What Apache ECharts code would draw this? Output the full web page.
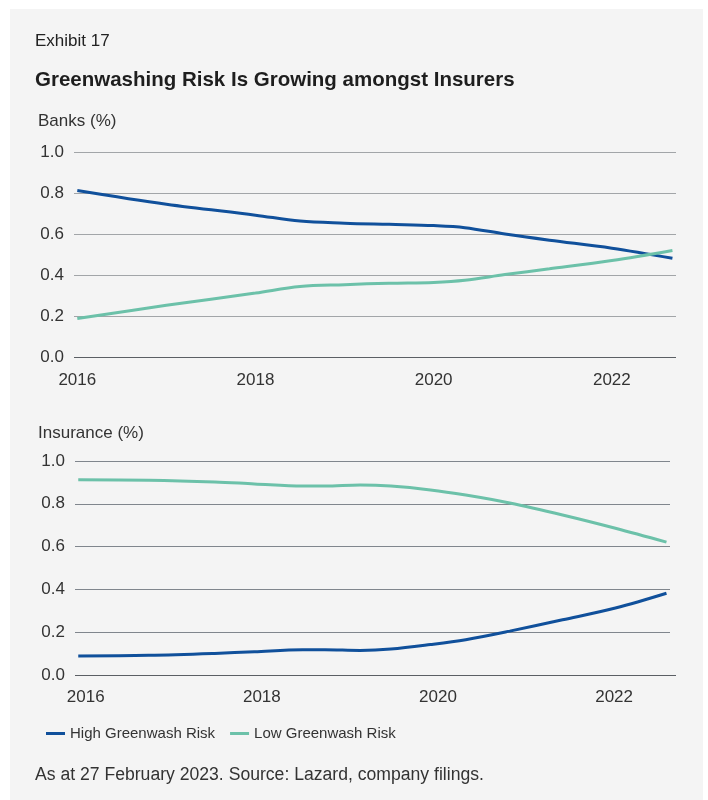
<!DOCTYPE html>
<html>
<head>
<meta charset="utf-8">
<script src="https://cdn.jsdelivr.net/npm/echarts@6/dist/echarts.min.js"></script>
<style>
html,body{margin:0;padding:0;background:#ffffff;}
#chart{width:708px;height:800px;}
</style>
</head>
<body>
<div id="chart"></div>
<script>
// ---- data ----
const exhibitLabel = 'Exhibit 17';
const chartTitle = 'Greenwashing Risk Is Growing amongst Insurers';
const banksLabel = 'Banks (%)';
const insuranceLabel = 'Insurance (%)';
const footnote = 'As at 27 February 2023. Source: Lazard, company filings.';
const seriesNames = ['High Greenwash Risk', 'Low Greenwash Risk'];
const xTickLabels = [2016, 2018, 2020, 2022];

const banksYears = [2016, 2017, 2018, 2018.5, 2019, 2019.5, 2020, 2020.35, 2020.8, 2021.3, 2022, 2022.68];
const banksHigh  = [0.812, 0.745, 0.692, 0.663, 0.653, 0.647, 0.641, 0.631, 0.600, 0.570, 0.531, 0.482];
const banksLow   = [0.188, 0.252, 0.312, 0.344, 0.353, 0.360, 0.364, 0.374, 0.402, 0.430, 0.471, 0.520];

const insYears = [2016, 2016.8, 2017.55, 2018, 2018.55, 2018.8, 2019.2, 2019.55, 2020, 2020.4, 2020.9, 2021.5, 2022.1, 2022.68];
const insHigh  = [0.089, 0.092, 0.101, 0.109, 0.118, 0.118, 0.115, 0.121, 0.142, 0.165, 0.205, 0.258, 0.313, 0.382];
const insLow   = [0.912, 0.910, 0.902, 0.893, 0.883, 0.883, 0.888, 0.883, 0.865, 0.841, 0.804, 0.748, 0.686, 0.621];

// ---- styling ----
const FONT = "'Liberation Sans', Arial, Helvetica, sans-serif";
const BLUE = '#10509b';
const TEAL = '#6cc1a9';
const xMin = 2015.963, xMax = 2022.72;

const pair = (xs, ys) => xs.map((x, i) => [x, ys[i]]);

function xAxisCfg(gridIndex, padLeft, margin) {
  return {
    type: 'value', gridIndex, min: xMin, max: xMax,
    axisLine: { show: false },
    axisTick: { show: false },
    splitLine: { show: false },
    axisLabel: {
      customValues: xTickLabels,
      fontFamily: FONT, fontSize: 17, color: '#333',
      margin: margin, padding: [0, 0, 0, padLeft],
      formatter: v => String(Math.round(v))
    }
  };
}
function yAxisCfg(gridIndex, gridColor) {
  return {
    type: 'value', gridIndex, min: 0, max: 1, interval: 0.2,
    axisLine: { show: false },
    axisTick: { show: false },
    splitLine: { show: true, lineStyle: { color: gridColor, width: 1.2 } },
    axisLabel: {
      fontFamily: FONT, fontSize: 17, color: '#333', margin: 10,
      formatter: v => v.toFixed(1)
    }
  };
}
function lineSeries(name, data, color, xi, yi) {
  return {
    name, type: 'line', xAxisIndex: xi, yAxisIndex: yi,
    data, smooth: 0.35, showSymbol: false, symbol: 'none',
    lineStyle: { color, width: 3 }, itemStyle: { color },
    animation: false
  };
}
function txt(text, x, y, size, weight, color) {
  return {
    type: 'text', x, y, z: 10,
    style: { text, fontFamily: FONT, fontSize: size, fontWeight: weight || 'normal',
             fill: color || '#333', verticalAlign: 'middle', align: 'left' }
  };
}

const chart = echarts.init(document.getElementById('chart'), null, { renderer: 'canvas' });
chart.setOption({
  backgroundColor: '#ffffff',
  animation: false,
  graphic: [
    { type: 'rect', shape: { x: 10, y: 9, width: 693, height: 791 }, style: { fill: '#f4f4f4' }, z: -10 },
    txt(exhibitLabel, 35, 41.5, 17, 'normal', '#222'),
    txt(chartTitle, 35, 80.5, 20.5, 'bold', '#1e1e1e'),
    txt(banksLabel, 38, 121, 17, 'normal', '#333'),
    txt(insuranceLabel, 38, 433, 17, 'normal', '#333'),
    txt(footnote, 35, 775, 17.6, 'normal', '#333'),
    { type: 'line', shape: { x1: 74, y1: 357.5, x2: 676, y2: 357.5 }, style: { stroke: '#5b5f64', lineWidth: 1.2 }, z: 5 },
    { type: 'line', shape: { x1: 75, y1: 675.5, x2: 676, y2: 675.5 }, style: { stroke: '#5b5f64', lineWidth: 1.2 }, z: 5 }
  ],
  legend: {
    data: seriesNames,
    left: 41, top: 721,
    icon: 'rect', itemWidth: 19, itemHeight: 3, itemGap: 15,
    textStyle: { fontFamily: FONT, fontSize: 15, color: '#333' }
  },
  grid: [
    { left: 74, right: 32, top: 152, height: 205, containLabel: false },
    { left: 75, right: 38, top: 461, height: 214, containLabel: false }
  ],
  xAxis: [xAxisCfg(0, 0, 15), xAxisCfg(1, 15, 14)],
  yAxis: [yAxisCfg(0, '#a2a5a8'), yAxisCfg(1, '#80868d')],
  series: [
    lineSeries(seriesNames[0], pair(banksYears, banksHigh), BLUE, 0, 0),
    lineSeries(seriesNames[1], pair(banksYears, banksLow), TEAL, 0, 0),
    lineSeries(seriesNames[0], pair(insYears, insHigh), BLUE, 1, 1),
    lineSeries(seriesNames[1], pair(insYears, insLow), TEAL, 1, 1)
  ]
});
</script>
</body>
</html>
